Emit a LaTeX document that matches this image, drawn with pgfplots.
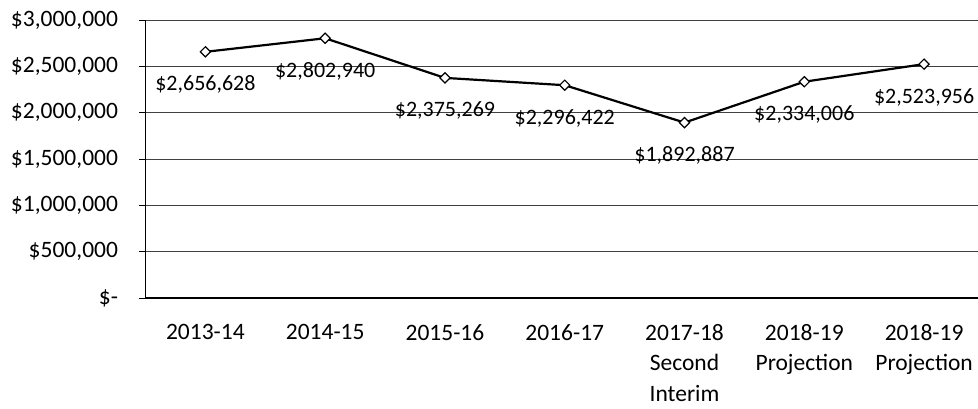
\documentclass[border=0pt]{standalone}
\usepackage{pgfplots}
\pgfplotsset{compat=1.18}
\usepackage{fontspec}
\setmainfont{Carlito}
\begin{document}
\begin{tikzpicture}
\begin{axis}[
    scale only axis,
    width=832.5pt, height=278pt,
    xmin=-0.5, xmax=6.45,
    ymin=0, ymax=3000000,
    scaled y ticks=false,
    axis x line*=bottom, axis y line*=left,
    axis line style={black, line width=1.2pt, -},
    tick align=outside,
    ytick={0,500000,1000000,1500000,2000000,2500000,3000000},
    yticklabels={{\$-\hspace{-7pt}}, {\$500,000}, {\$1,000,000}, {\$1,500,000}, {\$2,000,000}, {\$2,500,000}, {\$3,000,000}},
    xtick={0,...,6},
    xticklabels={2013-14, 2014-15, 2015-16, 2016-17, {2017-18\\Second\\Interim}, {2018-19\\Projection}, {2018-19\\Projection}},
    minor xtick={-0.5,0.5,1.5,2.5,3.5,4.5,5.5},
    xtick style={draw=none},
    minor x tick style={black, line width=1pt},
    minor tick length=8pt,
    ytick style={black, line width=1pt},
    major tick length=6pt,
    ymajorgrids,
    grid style={black!75, line width=0.9pt},
    tick label style={font=\fontsize{23.5}{30.5}\selectfont},
    xticklabel style={align=center, yshift=-19pt, inner sep=1pt},
    yticklabel style={xshift=-18pt},
    /pgf/number format/assume math mode=true,
]
\addplot[black, line width=2.2pt, mark=square*, mark size=3.6pt,
    mark options={rotate=45, fill=white, line width=1.2pt},
    nodes near coords, point meta=explicit symbolic,
    nodes near coords style={font=\fontsize{22}{26}\selectfont, anchor=center, yshift=-33pt, text=black}]
coordinates {
    (0,2656628) [\$2,656,628]
    (1,2802940) [\$2,802,940]
    (2,2375269) [\$2,375,269]
    (3,2296422) [\$2,296,422]
    (4,1892887) [\$1,892,887]
    (5,2334006) [\$2,334,006]
    (6,2523956) [\$2,523,956]
};
\end{axis}
\path (current axis.south west) ++(-145.5pt,-110pt) coordinate (bl);
\path (current axis.north east) ++(0pt,20pt) coordinate (tr);
\pgfresetboundingbox
\path[use as bounding box] (bl) rectangle (tr);
\end{tikzpicture}
\end{document}
